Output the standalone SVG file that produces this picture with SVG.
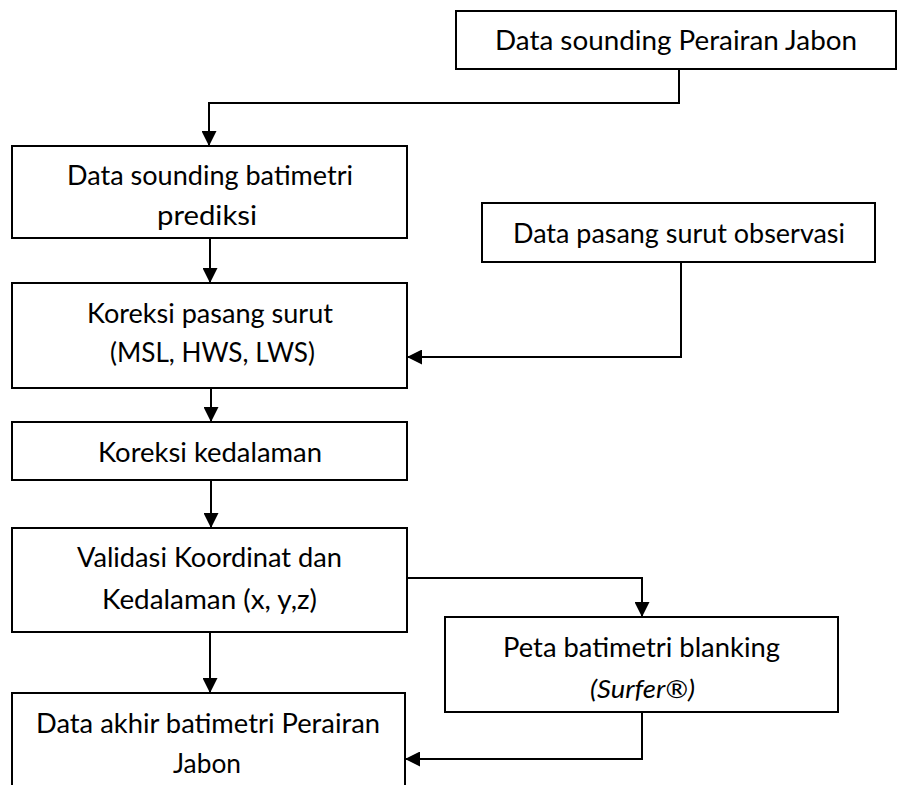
<svg xmlns="http://www.w3.org/2000/svg" width="897" height="785" viewBox="0 0 897 785">
<style>
.box{fill:#fff;stroke:#000;stroke-width:2}
.t{font-family:Lato,"Open Sans","Liberation Sans",sans-serif;font-size:26px;fill:#000}
.i{font-style:italic}
.c{fill:none;stroke:#000;stroke-width:2;marker-end:url(#ah)}
</style>
<defs>
<marker id="ah" markerUnits="userSpaceOnUse" markerWidth="15" markerHeight="15" refX="15" refY="7.5" orient="auto" viewBox="0 0 15 15">
<path d="M0,0 L15,7.5 L0,15 Z" fill="#000"/>
</marker>
</defs>
<rect width="897" height="785" fill="#fff"/>
<g id="connectors">
<path class="c" d="M679,69 V103 H209 V146"/>
<path class="c" d="M210,238 V283"/>
<path class="c" d="M681,262 V357 H407"/>
<path class="c" d="M211,388 V422"/>
<path class="c" d="M211,480 V528"/>
<path class="c" d="M407,578 H642 V617"/>
<path class="c" d="M210,632 V693"/>
<path class="c" d="M642,712 V759 H405"/>
</g>
<g id="nodeA">
<rect class="box" x="456" y="11" width="440" height="58"/>
<text class="t" x="495" y="50" textLength="362" lengthAdjust="spacingAndGlyphs">Data sounding Perairan Jabon</text>
</g>
<g id="nodeB">
<rect class="box" x="12" y="146" width="395" height="92"/>
<text class="t" x="67" y="185" textLength="286" lengthAdjust="spacingAndGlyphs">Data sounding batimetri</text>
<text class="t" x="157" y="225" textLength="100" lengthAdjust="spacingAndGlyphs">prediksi</text>
</g>
<g id="nodeD">
<rect class="box" x="482" y="203" width="393" height="59"/>
<text class="t" x="513" y="243" textLength="332" lengthAdjust="spacingAndGlyphs">Data pasang surut observasi</text>
</g>
<g id="nodeC">
<rect class="box" x="12" y="283" width="395" height="105"/>
<text class="t" x="87" y="323" textLength="246" lengthAdjust="spacingAndGlyphs">Koreksi pasang surut</text>
<text class="t" x="110" y="362" textLength="205" lengthAdjust="spacingAndGlyphs">(MSL, HWS, LWS)</text>
</g>
<g id="nodeE">
<rect class="box" x="12" y="422" width="395" height="58"/>
<text class="t" x="98" y="462" textLength="224" lengthAdjust="spacingAndGlyphs">Koreksi kedalaman</text>
</g>
<g id="nodeF">
<rect class="box" x="12" y="528" width="395" height="104"/>
<text class="t" x="77" y="567" textLength="265" lengthAdjust="spacingAndGlyphs">Validasi Koordinat dan</text>
<text class="t" x="102" y="609" textLength="215" lengthAdjust="spacingAndGlyphs">Kedalaman (x, y,z)</text>
</g>
<g id="nodeG">
<rect class="box" x="445" y="617" width="393" height="95"/>
<text class="t" x="503" y="657" textLength="277" lengthAdjust="spacingAndGlyphs">Peta batimetri blanking</text>
<text class="t i" x="590" y="698" textLength="105" lengthAdjust="spacingAndGlyphs">(Surfer®)</text>
</g>
<g id="nodeH">
<rect class="box" x="12" y="693" width="393" height="110"/>
<text class="t" x="36" y="733" textLength="344" lengthAdjust="spacingAndGlyphs">Data akhir batimetri Perairan</text>
<text class="t" x="173" y="773" textLength="68" lengthAdjust="spacingAndGlyphs">Jabon</text>
</g>
</svg>
